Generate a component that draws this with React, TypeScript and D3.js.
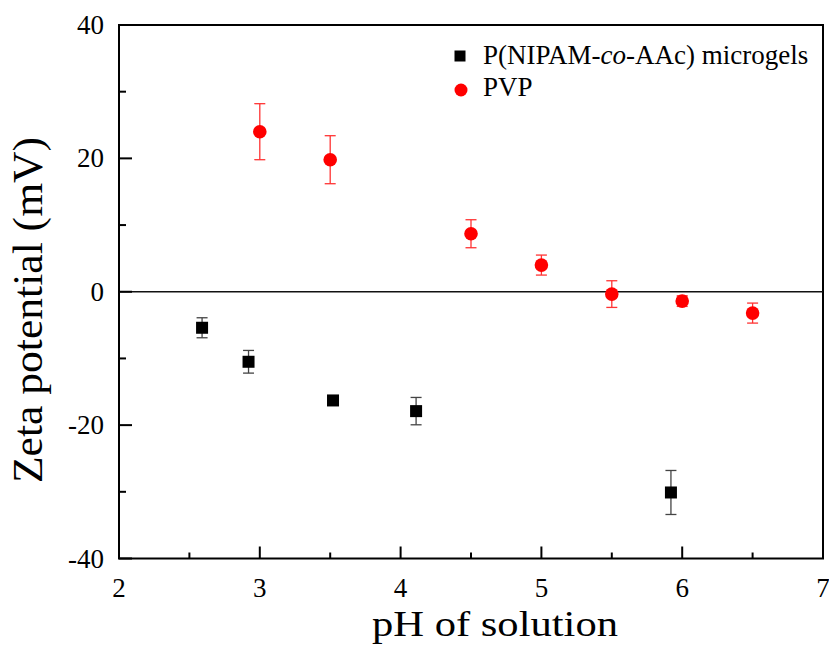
import React, { useRef, useEffect } from 'react';
import * as d3 from 'd3';

// P(NIPAM-co-AAc) microgels
const gelPH = [2.59, 2.92, 3.52, 4.11, 5.92];
const gelZeta = [-5.4, -10.5, -16.3, -17.9, -30.1];
const gelErr = [1.5, 1.7, 0.4, 2.05, 3.3];

// PVP
const pvpPH = [3, 3.5, 4.5, 5, 5.5, 6, 6.5];
const pvpZeta = [24, 19.8, 8.7, 4.0, -0.35, -1.4, -3.2];
const pvpErr = [4.2, 3.6, 2.1, 1.5, 2.0, 0.8, 1.5];

const xTicks = [2, 3, 4, 5, 6, 7];
const yTicks = [-40, -20, 0, 20, 40];

const W = 829;
const H = 645;
const FONT = 'Liberation Serif, Times New Roman, serif';

function App() {
  const svgRef = useRef<SVGSVGElement>(null);

  useEffect(() => {
    const svg = d3.select(svgRef.current);
    svg.selectAll('*').remove();

    const left = 119;
    const right = 823;
    const top = 25;
    const bottom = 558.5;

    const x = d3.scaleLinear().domain([2, 7]).range([left, right]);
    const y = d3.scaleLinear().domain([-40, 40]).range([bottom, top]);

    // рамка
    svg
      .append('rect')
      .attr('x', left)
      .attr('y', top)
      .attr('width', right - left)
      .attr('height', bottom - top)
      .attr('fill', 'none')
      .attr('stroke', '#000')
      .attr('stroke-width', 2);

    // нулевая линия
    svg
      .append('line')
      .attr('x1', left)
      .attr('x2', right)
      .attr('y1', y(0))
      .attr('y2', y(0))
      .attr('stroke', '#111')
      .attr('stroke-width', 1.6);

    // тики X
    const xMinor = d3.range(2.5, 7, 1);
    svg
      .selectAll('.xt')
      .data(xTicks)
      .join('line')
      .attr('x1', (d) => x(d))
      .attr('x2', (d) => x(d))
      .attr('y1', bottom)
      .attr('y2', bottom - 12)
      .attr('stroke', '#000')
      .attr('stroke-width', 2);
    svg
      .selectAll('.xm')
      .data(xMinor)
      .join('line')
      .attr('x1', (d) => x(d))
      .attr('x2', (d) => x(d))
      .attr('y1', bottom)
      .attr('y2', bottom - 6)
      .attr('stroke', '#000')
      .attr('stroke-width', 2);
    svg
      .selectAll('.xl')
      .data(xTicks)
      .join('text')
      .attr('x', (d) => x(d))
      .attr('y', bottom + 38.5)
      .attr('text-anchor', 'middle')
      .style('font-family', FONT)
      .style('font-size', '27px')
      .text((d) => d);

    // тики Y
    const yMinor = d3.range(-30, 40, 20);
    svg
      .selectAll('.yt')
      .data(yTicks)
      .join('line')
      .attr('x1', left)
      .attr('x2', left + 13)
      .attr('y1', (d) => y(d))
      .attr('y2', (d) => y(d))
      .attr('stroke', '#000')
      .attr('stroke-width', 2);
    svg
      .selectAll('.ym')
      .data(yMinor)
      .join('line')
      .attr('x1', left)
      .attr('x2', left + 7)
      .attr('y1', (d) => y(d))
      .attr('y2', (d) => y(d))
      .attr('stroke', '#000')
      .attr('stroke-width', 2);
    svg
      .selectAll('.yl')
      .data(yTicks)
      .join('text')
      .attr('x', left - 15)
      .attr('y', (d) => y(d) + 9)
      .attr('text-anchor', 'end')
      .style('font-family', FONT)
      .style('font-size', '27px')
      .text((d) => d);

    // подписи осей
    svg
      .append('text')
      .attr('x', 495)
      .attr('y', 636)
      .attr('text-anchor', 'middle')
      .attr('textLength', 246)
      .attr('lengthAdjust', 'spacingAndGlyphs')
      .style('font-family', FONT)
      .style('font-size', '36px')
      .text('pH of solution');

    svg
      .append('text')
      .attr('transform', 'translate(42, 310) rotate(-90)')
      .attr('text-anchor', 'middle')
      .attr('textLength', 346)
      .attr('lengthAdjust', 'spacingAndGlyphs')
      .style('font-family', FONT)
      .style('font-size', '42px')
      .text('Zeta potential (mV)');

    const gel = gelPH.map((p, i) => ({ p, v: gelZeta[i], e: gelErr[i] }));
    const pvp = pvpPH.map((p, i) => ({ p, v: pvpZeta[i], e: pvpErr[i] }));

    // планки погрешностей
    const drawErr = (data, color, cap) => {
      const g = svg.append('g').attr('stroke', color).attr('stroke-width', 1.3);
      g.selectAll('.v')
        .data(data)
        .join('line')
        .attr('x1', (d) => x(d.p))
        .attr('x2', (d) => x(d.p))
        .attr('y1', (d) => y(d.v + d.e))
        .attr('y2', (d) => y(d.v - d.e));
      g.selectAll('.t')
        .data(data)
        .join('line')
        .attr('x1', (d) => x(d.p) - cap)
        .attr('x2', (d) => x(d.p) + cap)
        .attr('y1', (d) => y(d.v + d.e))
        .attr('y2', (d) => y(d.v + d.e));
      g.selectAll('.b')
        .data(data)
        .join('line')
        .attr('x1', (d) => x(d.p) - cap)
        .attr('x2', (d) => x(d.p) + cap)
        .attr('y1', (d) => y(d.v - d.e))
        .attr('y2', (d) => y(d.v - d.e));
    };

    drawErr(gel, '#444', 5.5);
    drawErr(pvp, '#f33', 5.5);

    svg
      .append('g')
      .selectAll('rect')
      .data(gel)
      .join('rect')
      .attr('x', (d) => x(d.p) - 6)
      .attr('y', (d) => y(d.v) - 6)
      .attr('width', 12)
      .attr('height', 12)
      .attr('fill', '#000');

    svg
      .append('g')
      .selectAll('circle')
      .data(pvp)
      .join('circle')
      .attr('cx', (d) => x(d.p))
      .attr('cy', (d) => y(d.v))
      .attr('r', 6.8)
      .attr('fill', '#ff0000');

    // легенда
    svg
      .append('rect')
      .attr('x', 454.5)
      .attr('y', 50.5)
      .attr('width', 11)
      .attr('height', 11)
      .attr('fill', '#000');
    svg
      .append('circle')
      .attr('cx', 461)
      .attr('cy', 90)
      .attr('r', 6.5)
      .attr('fill', '#ff0000');

    const leg = svg
      .append('text')
      .attr('x', 483)
      .attr('y', 63.5)
      .style('font-family', FONT)
      .style('font-size', '27px');
    leg.append('tspan').text('P(NIPAM-');
    leg.append('tspan').style('font-style', 'italic').text('co');
    leg.append('tspan').text('-AAc) microgels');

    svg
      .append('text')
      .attr('x', 483)
      .attr('y', 95.5)
      .style('font-family', FONT)
      .style('font-size', '27px')
      .text('PVP');
  }, []);

  return (
    <svg
      ref={svgRef}
      width={W}
      height={H}
      style={{ position: 'absolute', left: 0, top: 0, background: '#fff' }}
      xmlns="http://www.w3.org/2000/svg"
    />
  );
}

export default App;
